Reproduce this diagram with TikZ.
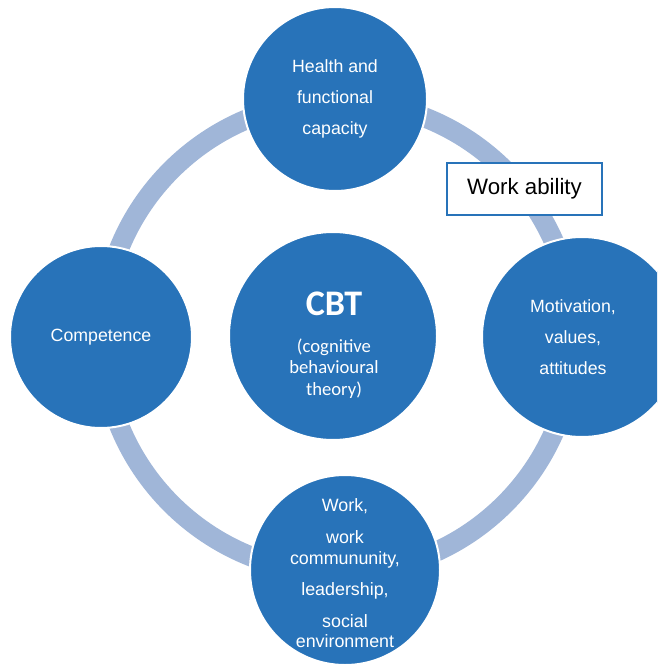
\documentclass[tikz,border=0pt]{standalone}
\usepackage{fontspec}
\setmainfont{Liberation Sans}
\newfontfamily\cbtfont{Carlito}
\definecolor{circblue}{RGB}{40,115,185}
\definecolor{ringblue}{RGB}{160,182,216}
\tikzset{every picture/.style={line width=0.75pt}}
\tikzset{
  factor/.style={circle, fill=circblue, draw=white, line width=1.5pt, inner sep=0pt,
    text=white, align=center, font=\fontsize{13.3}{23.5}\selectfont},
  abilitybox/.style={draw=circblue, line width=1.6pt, fill=white, minimum width=116pt,
    minimum height=39pt, font=\fontsize{16.7}{19}\selectfont}
}

\begin{document}
\begin{tikzpicture}[x=0.75pt,y=0.75pt,yscale=-1,xscale=1]
\useasboundingbox (0,0) rectangle (657,670);
\clip (0,0) rectangle (657,670);

%Shape: Ring
\draw [draw=ringblue, line width=15pt] (338,337) circle [radius=236];

%Shape: Circle
\node [factor, minimum size=138pt] (health) at (335,99) {Health and\\functional\\capacity};
%Shape: Circle
\node [factor, minimum size=136.5pt] (competence) at (101,337) {Competence};
%Shape: Circle
\node [factor, minimum size=150pt] (motivation) at (582,337) {};
%Shape: Circle
\node [factor, minimum size=142.5pt] (work) at (345,570) {};
%Shape: Circle
\node [factor, minimum size=156pt] (cbt) at (333,336) {};

% Text Node
\node [text=white, align=center, font=\fontsize{13.3}{23.5}\selectfont] (motivtext) at (573,337) {Motivation,\\values,\\attitudes};
% Text Node
\node [text=white, align=center, font=\fontsize{13.4}{15.5}\selectfont] (worktext) at (345,573)
  {Work,\\[9pt]work\\commununity,\\[8pt]leadership,\\[8pt]social\\environment};
% Text Node
\node [text=white, align=center, font=\cbtfont\fontsize{14}{16}\selectfont] (cbttext) at (334,345)
  {\fontsize{27}{30}\selectfont\bfseries CBT\\[12pt]
   \fontsize{14}{16}\selectfont\mdseries (cognitive\\behavioural\\theory)};

% Text Node
\node [abilitybox] (ability) at (524.5,189) {Work ability};

\end{tikzpicture}
\end{document}
